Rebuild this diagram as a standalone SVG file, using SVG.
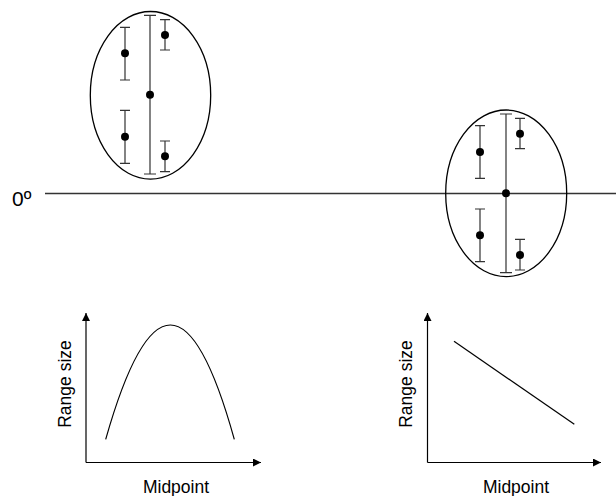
<svg xmlns="http://www.w3.org/2000/svg" width="616" height="496" viewBox="0 0 616 496">
<style>
.ell{fill:none;stroke:#000;stroke-width:1.3}
.bar{fill:none;stroke:#333;stroke-width:1.2}
.dot{fill:#000}
.ax{fill:none;stroke:#000;stroke-width:1.2}
.crv{fill:none;stroke:#000;stroke-width:1.2}
.lbl{font-family:"Liberation Sans",Arial,sans-serif;font-size:17.5px;fill:#000}
.zero{font-family:"Liberation Sans",Arial,sans-serif;font-size:21px;fill:#000}
</style>
<defs>
<marker id="arr" viewBox="0 0 10 10" refX="10" refY="5" markerWidth="8" markerHeight="8" markerUnits="userSpaceOnUse" orient="auto">
<path d="M0,0 L10,5 L0,10 z" fill="#000"/>
</marker>
</defs>
<g id="connectors">
<line id="zero-line" x1="45" y1="193.5" x2="616" y2="193.5" stroke="#333" stroke-width="1.3"/>
<line class="ax" x1="86" y1="462.5" x2="86" y2="313" marker-end="url(#arr)"/>
<line class="ax" x1="86" y1="462.5" x2="261" y2="462.5" marker-end="url(#arr)"/>
<line class="ax" x1="427.5" y1="462.5" x2="427.5" y2="313" marker-end="url(#arr)"/>
<line class="ax" x1="427.5" y1="462.5" x2="601" y2="462.5" marker-end="url(#arr)"/>
</g>
<text class="zero" x="12" y="205.5">0º</text>
<g id="cluster1">
<ellipse class="ell" cx="150.5" cy="95.3" rx="60.2" ry="83.8"/>
<path class="bar" d="M150,15.3V174M144,15.3H156M144,174H156"/>
<circle class="dot" cx="150" cy="94.7" r="4"/>
<path class="bar" d="M125,27.3V80M120,27.3H130M120,80H130"/>
<circle class="dot" cx="125" cy="53.3" r="4"/>
<path class="bar" d="M125,110.3V163.3M120,110.3H130M120,163.3H130"/>
<circle class="dot" cx="125" cy="136.7" r="4"/>
<path class="bar" d="M165,19.7V50M160,19.7H170M160,50H170"/>
<circle class="dot" cx="165" cy="35" r="4"/>
<path class="bar" d="M165,141V171.7M160,141H170M160,171.7H170"/>
<circle class="dot" cx="165" cy="156.3" r="4"/>
</g>
<g id="cluster2">
<ellipse class="ell" cx="506.2" cy="193.3" rx="60.5" ry="83.3"/>
<path class="bar" d="M506,114V272.7M500,114H512M500,272.7H512"/>
<circle class="dot" cx="506" cy="193.3" r="4"/>
<path class="bar" d="M480,125.7V178.3M475,125.7H485M475,178.3H485"/>
<circle class="dot" cx="480" cy="152" r="4"/>
<path class="bar" d="M480,209V261.7M475,209H485M475,261.7H485"/>
<circle class="dot" cx="480" cy="235.3" r="4"/>
<path class="bar" d="M520,118.3V148.7M515,118.3H525M515,148.7H525"/>
<circle class="dot" cx="520" cy="133.7" r="4"/>
<path class="bar" d="M520,239.3V270M515,239.3H525M515,270H525"/>
<circle class="dot" cx="520" cy="255" r="4"/>
</g>
<g id="plot1">
<path class="crv" d="M105.7,439.3 Q170.7,210.7 234.3,439.3"/>
<text class="lbl" transform="translate(71,384) rotate(-90)" text-anchor="middle">Range size</text>
<text class="lbl" x="176" y="492.5" text-anchor="middle">Midpoint</text>
</g>
<g id="plot2">
<line class="crv" x1="454" y1="341.3" x2="574.3" y2="424.3"/>
<text class="lbl" transform="translate(412,384) rotate(-90)" text-anchor="middle">Range size</text>
<text class="lbl" x="516" y="492.5" text-anchor="middle">Midpoint</text>
</g>
</svg>
